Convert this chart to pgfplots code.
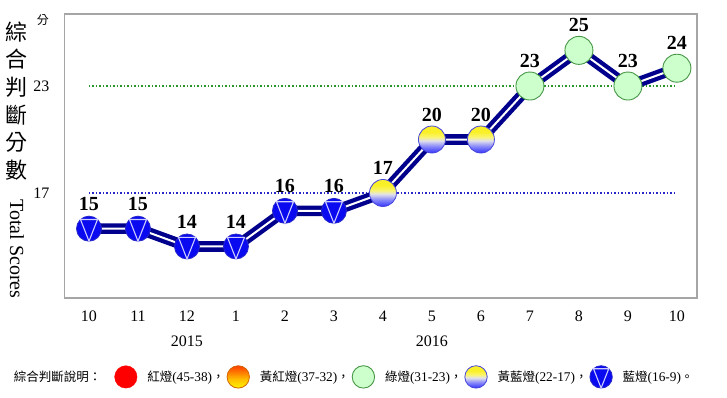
\documentclass[border=0pt]{standalone}
\usepackage{pgfplots}
\pgfplotsset{compat=1.18}
\usepackage{fontspec}
\setmainfont{Liberation Serif}
\newfontfamily\cjk{Noto Sans CJK TC}

\definecolor{navy}{RGB}{0,0,140}
\definecolor{lampblue}{RGB}{10,10,240}
\definecolor{lampblueedge}{RGB}{40,40,200}
\definecolor{lampline}{RGB}{205,205,255}
\definecolor{lampgreen}{RGB}{204,255,204}
\definecolor{lampgreenedge}{RGB}{70,150,70}
\definecolor{lampred}{RGB}{255,0,0}
\definecolor{ybA}{RGB}{50,50,250}
\definecolor{ybB}{RGB}{140,140,250}
\definecolor{ybC}{RGB}{225,225,235}
\definecolor{ybD}{RGB}{250,245,110}
\definecolor{ybE}{RGB}{250,240,40}
\definecolor{ybedge}{RGB}{70,70,220}
\definecolor{orA}{RGB}{255,245,0}
\definecolor{orB}{RGB}{255,190,0}
\definecolor{orC}{RGB}{255,60,0}
\definecolor{oredge}{RGB}{210,100,0}
\definecolor{dotgreen}{RGB}{40,150,40}
\definecolor{dotblue}{RGB}{40,40,200}
\definecolor{framegray}{RGB}{165,165,165}

\pgfdeclareverticalshading{ybshade}{100bp}{color(0bp)=(ybA); color(25bp)=(ybA); color(38bp)=(ybB); color(48bp)=(ybC); color(55bp)=(ybD); color(64bp)=(ybE); color(100bp)=(ybE)}
\pgfdeclareverticalshading{orshade}{100bp}{color(0bp)=(orA); color(25bp)=(orA); color(45bp)=(orB); color(75bp)=(orC); color(100bp)=(orC)}

\pgfdeclareplotmark{lampblue}{%
  \pgfscope
  \pgfpathcircle{\pgfpointorigin}{\pgfplotmarksize}%
  \pgfsetfillcolor{lampblue}%
  \pgfsetstrokecolor{lampblueedge}%
  \pgfsetlinewidth{0.8pt}%
  \pgfusepath{fill,stroke}%
  \pgfpathmoveto{\pgfpoint{-0.68\pgfplotmarksize}{0.73\pgfplotmarksize}}%
  \pgfpathlineto{\pgfpoint{0.68\pgfplotmarksize}{0.73\pgfplotmarksize}}%
  \pgfpathlineto{\pgfpoint{0pt}{-\pgfplotmarksize}}%
  \pgfpathclose
  \pgfsetstrokecolor{lampline}%
  \pgfsetlinewidth{1.1pt}%
  \pgfusepath{stroke}%
  \endpgfscope
}
\pgfdeclareplotmark{lampyb}{%
  \pgfscope
  \pgfpathcircle{\pgfpointorigin}{\pgfplotmarksize}%
  \pgfshadepath{ybshade}{0}%
  \pgfsetstrokecolor{ybedge}%
  \pgfsetlinewidth{0.8pt}%
  \pgfusepath{stroke}%
  \endpgfscope
}
\pgfdeclareplotmark{lampor}{%
  \pgfscope
  \pgfpathcircle{\pgfpointorigin}{\pgfplotmarksize}%
  \pgfshadepath{orshade}{0}%
  \pgfsetstrokecolor{oredge}%
  \pgfsetlinewidth{0.8pt}%
  \pgfusepath{stroke}%
  \endpgfscope
}
\pgfdeclareplotmark{lampgreen}{%
  \pgfscope
  \pgfpathcircle{\pgfpointorigin}{\pgfplotmarksize}%
  \pgfsetfillcolor{lampgreen}%
  \pgfsetstrokecolor{lampgreenedge}%
  \pgfsetlinewidth{0.9pt}%
  \pgfusepath{fill,stroke}%
  \endpgfscope
}
\pgfdeclareplotmark{lampred}{%
  \pgfscope
  \pgfpathcircle{\pgfpointorigin}{\pgfplotmarksize}%
  \pgfsetfillcolor{lampred}%
  \pgfsetstrokecolor{lampred}%
  \pgfusepath{fill,stroke}%
  \endpgfscope
}

\newcommand{\lgd}[2]{{\cjk\fontsize{12.5}{13}\selectfont #1}{\fontsize{13.3}{13}\selectfont #2}}

\begin{document}
\begin{tikzpicture}
\begin{axis}[
  scale only axis, width=632.5pt, height=284pt,
  xmin=-0.5, xmax=12.41, ymin=11.11, ymax=27.04,
  axis line style={draw=framegray, line width=1.6pt},
  xtick={0,...,12}, xticklabels={10,11,12,1,2,3,4,5,6,7,8,9,10},
  ytick={17,23},
  major tick length=0pt,
  tick style={draw=none},
  /pgf/number format/assume math mode=true,
  ticklabel style={font=\fontsize{16}{16}\selectfont},
  xticklabel style={anchor=center, yshift=-18pt},
  yticklabel style={anchor=center, xshift=-23pt},
  clip=false,
  legend columns=-1,
  legend style={
    at={(axis description cs:-0.0957,-0.278)}, anchor=west,
    draw=none, fill=none, inner sep=0pt, outer sep=0pt,
    nodes={inner sep=0pt},
    /tikz/every odd column/.append style={column sep=10pt},
    /tikz/every even column/.append style={column sep=2pt},
  },
]
% reference lines
\addplot[forget plot, draw=dotgreen, line width=1.5pt, dash pattern=on 1.5pt off 2pt] coordinates {(0,23) (12,23)};
\addplot[forget plot, draw=dotblue, line width=1.5pt, dash pattern=on 1.5pt off 2pt] coordinates {(0,17) (12,17)};
% main line
\addplot[forget plot, draw=navy, line width=4.3pt, double=white, double distance=2pt] coordinates {
(0,15) (1,15) (2,14) (3,14) (4,16) (5,16) (6,17) (7,20) (8,20) (9,23) (10,25) (11,23) (12,24)};
% markers
\addplot[forget plot, only marks, mark=lampblue, mark size=12.5pt,
  nodes near coords, nodes near coords style={font=\bfseries\fontsize{20}{20}\selectfont, text=black, anchor=south, inner sep=0pt, yshift=18pt}]
  coordinates {(0,15) (1,15) (2,14) (3,14) (4,16) (5,16)};
\addplot[forget plot, only marks, mark=lampyb, mark size=13.5pt,
  nodes near coords, nodes near coords style={font=\bfseries\fontsize{20}{20}\selectfont, text=black, anchor=south, inner sep=0pt, yshift=18pt}]
  coordinates {(6,17) (7,20) (8,20)};
\addplot[forget plot, only marks, mark=lampgreen, mark size=14pt,
  nodes near coords, nodes near coords style={font=\bfseries\fontsize{20}{20}\selectfont, text=black, anchor=south, inner sep=0pt, yshift=18pt}]
  coordinates {(9,23) (10,25) (11,23) (12,24)};
% legend
\addlegendimage{empty legend}
\addlegendentry{{\cjk\fontsize{12.5}{13}\selectfont 綜合判斷說明：}\kern11pt\null}
\addlegendimage{legend image code/.code={\draw[only marks, mark=lampred, mark size=11.2pt] plot coordinates {(0pt,0pt)};}}
\addlegendentry{\lgd{紅燈}{(45-38)}{\cjk\fontsize{12.5}{13}\selectfont ，}}
\addlegendimage{legend image code/.code={\draw[only marks, mark=lampor, mark size=11.2pt] plot coordinates {(0pt,0pt)};}}
\addlegendentry{\lgd{黃紅燈}{(37-32)}{\cjk\fontsize{12.5}{13}\selectfont ，}}
\addlegendimage{legend image code/.code={\draw[only marks, mark=lampgreen, mark size=11.2pt] plot coordinates {(0pt,0pt)};}}
\addlegendentry{\lgd{綠燈}{(31-23)}{\cjk\fontsize{12.5}{13}\selectfont ，}}
\addlegendimage{legend image code/.code={\draw[only marks, mark=lampyb, mark size=11.2pt] plot coordinates {(0pt,0pt)};}}
\addlegendentry{\lgd{黃藍燈}{(22-17)}{\cjk\fontsize{12.5}{13}\selectfont ，}}
\addlegendimage{legend image code/.code={\draw[only marks, mark=lampblue, mark size=11.2pt] plot coordinates {(0pt,0pt)};}}
\addlegendentry{\lgd{藍燈}{(16-9)}{\cjk\fontsize{12.5}{13}\selectfont 。}}
% year labels
\node[font=\fontsize{16}{16}\selectfont, yshift=-43pt] at (axis cs:2,11.11) {2015};
\node[font=\fontsize{16}{16}\selectfont, yshift=-43pt] at (axis cs:7,11.11) {2016};
\end{axis}
\node[font=\cjk\fontsize{12}{12}\selectfont] at (-21.5pt,278pt) {分};
\node[font=\cjk\fontsize{22}{27.6}\selectfont, align=center, inner sep=0pt] at (-47.5pt,197pt) {綜\\合\\判\\斷\\分\\數};
\node[rotate=-90, font=\fontsize{20}{20}\selectfont, inner sep=0pt] at (-47.5pt,49pt) {Total Scores};
\path (-64.5pt,-99pt) rectangle (662.5pt,298pt);
\end{tikzpicture}
\end{document}
